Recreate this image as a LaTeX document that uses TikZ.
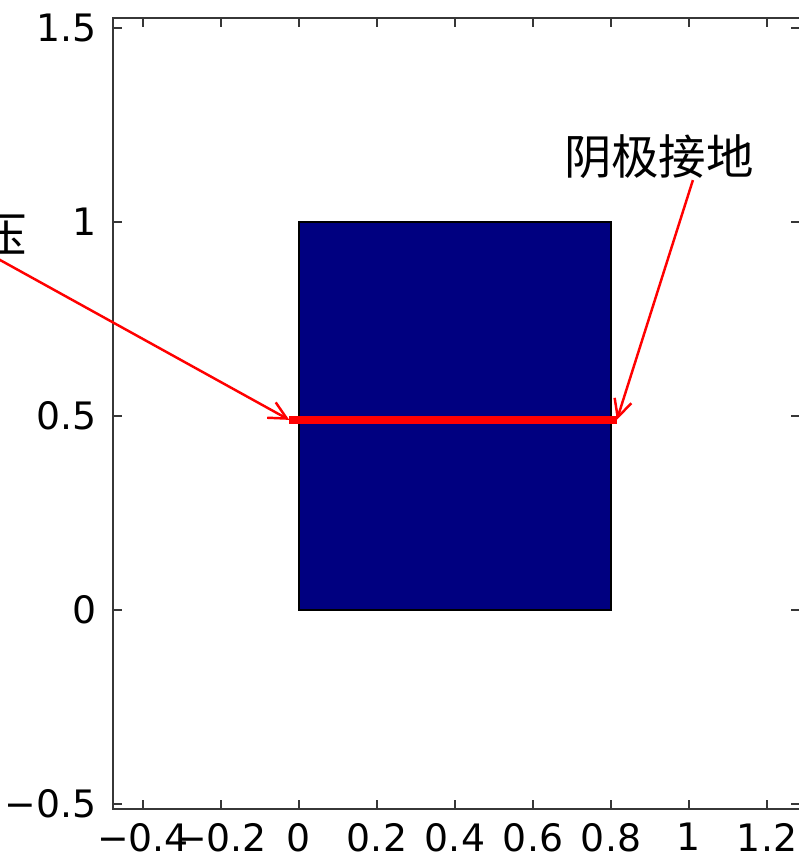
\documentclass[tikz,border=0pt]{standalone}
\usepackage{fontspec}
\setsansfont{DejaVu Sans}
\newfontfamily\cjk{Noto Sans CJK SC}
\usetikzlibrary{arrows.meta}
\definecolor{navyfill}{RGB}{0,0,128}
\definecolor{axisgray}{RGB}{55,55,55}

\begin{document}
\begin{tikzpicture}[x=7.8cm, y=7.76cm, >={Straight Barb[length=10pt,width=10pt]},
  axisline/.style={axisgray, line width=1.1pt},
  tickmark/.style={axisgray, line width=1pt},
  ticklabel/.style={font=\sffamily\fontsize{21.5}{24}\selectfont, inner sep=0pt},
  callout/.style={font=\cjk\fontsize{27}{30}\selectfont, inner sep=0pt},
  pointer/.style={->, red, line width=1.4pt}]
  \useasboundingbox (-0.7667,-0.6443) rectangle (1.2795,1.5722);

  % Axes box and ticks
  \draw[axisline] (-0.477,-0.513) rectangle (1.285,1.526);
  \foreach \x/\lab in {-0.4/−0.4, -0.2/−0.2, 0/0, 0.2/0.2, 0.4/0.4, 0.6/0.6, 0.8/0.8, 1/1, 1.2/1.2} {
    \draw[tickmark] (\x,-0.513) -- (\x,-0.490);
    \draw[tickmark] (\x,1.526) -- (\x,1.503);
    \node[ticklabel, anchor=north] at (\x,-0.548) {\lab};
  }
  \foreach \y/\lab in {-0.5/−0.5, 0/0, 0.5/0.5, 1/1, 1.5/1.5} {
    \draw[tickmark] (-0.477,\y) -- (-0.454,\y);
    \draw[tickmark] (1.285,\y) -- (1.262,\y);
    \node[ticklabel, anchor=east] at (-0.518,\y) {\lab};
  }

  % Block
  \draw[fill=navyfill, line width=0.8pt] (0,0) rectangle (0.8,1);

  % Electrode line
  \coordinate (barL) at (-0.025,0.49);
  \coordinate (barR) at (0.815,0.49);
  \draw[red, line width=4.5pt] (barL) -- (barR);

  % Labels and arrows
  \node[callout, anchor=east] (anodeLabel) at (-0.697,0.966) {压};
  \coordinate (anodeStart) at (-0.869,0.959);
  \draw[pointer] (anodeStart) -- (barL);

  \node[callout] (cathodeLabel) at (0.923,1.168) {阴极接地};
  \coordinate (cathodeStart) at (1.010,1.108);
  \draw[pointer] (cathodeStart) -- (barR);
\end{tikzpicture}
\end{document}
